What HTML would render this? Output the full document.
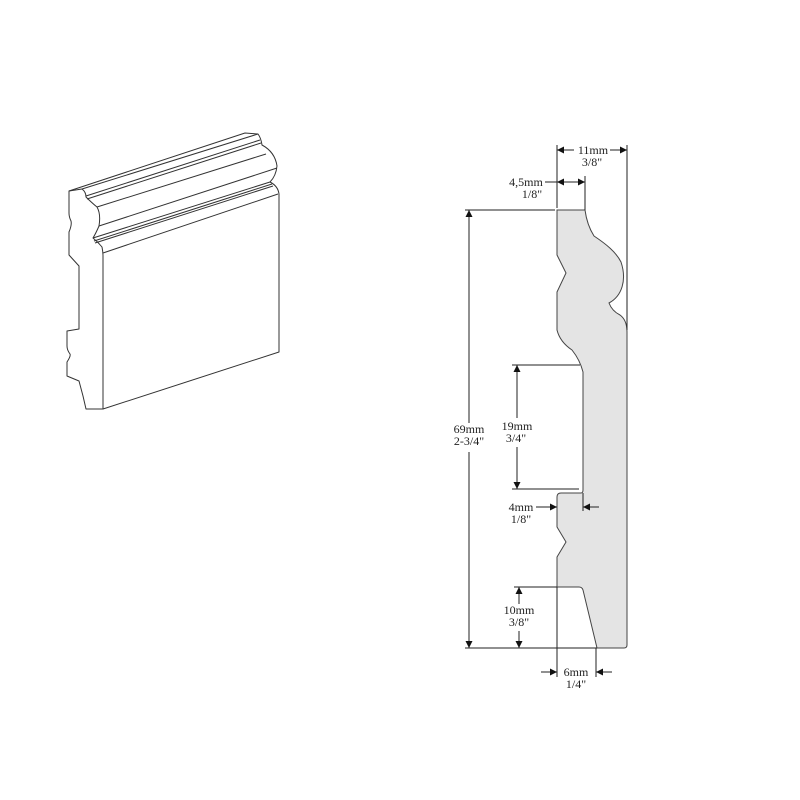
<!DOCTYPE html>
<html><head><meta charset="utf-8"><style>
html,body{margin:0;padding:0;background:#fff;}
svg{display:block}
text{font-family:"Liberation Serif",serif;font-size:12px;fill:#222}
</style></head><body>
<svg width="800" height="800" viewBox="0 0 800 800" xmlns="http://www.w3.org/2000/svg">
<defs>
<marker id="a" viewBox="0 0 10 10" refX="10" refY="5" markerWidth="12" markerHeight="7" orient="auto-start-reverse" markerUnits="userSpaceOnUse"><path d="M0,0 L10,5 L0,10 z" fill="#111"/></marker>
</defs>
<g fill="none" stroke="#333" stroke-width="1" stroke-linejoin="round">
<path d="M69,191 L82,189 Q86,192 86,197 Q92,203 97,207 Q101,214 99,226 Q96,233 93,238 Q98,242 102,247 Q103,252 103,256 L103,409 L86,409 L83,396 L79,381 L67,376 L67,362 Q71,356 70,354 Q67,350 67,346 L67,331 L79,329 L79,266 L69,255 L69,232 Q72,225 71,221 Q69,217 69,213 Z" fill="#fff"/>
<path d="M69,191 L245,133 L258,134"/>
<path d="M82,189 L258,134 Q261,138 262,145 Q275,152 277,166 Q276,176 270,182 Q278,186 279,194 L279,352 L103,409"/>
<path d="M86,196 L260,140"/>
<path d="M87,199 L261,143"/>
<path d="M97,207 L266,154"/>
<path d="M99,226 L277,168"/>
<path d="M93,238 L270,182"/>
<path d="M94,241 L272,184"/>
<path d="M95,243 L273,186"/>
<path d="M103,253 L278,194"/>
</g>
<path d="M557,210 L585,210 Q587,225 594,236 C606,244 616,252 621,262 C627,280 622,296 609,303 Q612,311 620,315 Q627,320 627,332 L627,645 Q627,648 624,648 L597,648 L583,590 Q582,587 579,587 L557,587 L557,557 L566,542 L557,527 L557,497 Q557,493 561,493 L581,493 Q583,493 583,490 L583,372 Q580,360 572,350 Q560,342 557,330 L557,292 L566,273 L557,255 Z" fill="#e4e4e4" stroke="#444" stroke-width="1"/>
<g stroke="#222" stroke-width="1" fill="none">
<line x1="557" y1="145" x2="557" y2="208"/>
<line x1="627" y1="145" x2="627" y2="330"/>
<line x1="574" y1="150" x2="557" y2="150" marker-end="url(#a)"/>
<line x1="610" y1="150" x2="627" y2="150" marker-end="url(#a)"/>
<line x1="585" y1="176" x2="585" y2="210"/>
<line x1="545" y1="182" x2="585" y2="182" marker-end="url(#a)"/>
<line x1="572" y1="182" x2="557" y2="182" marker-end="url(#a)"/>
<line x1="465" y1="210" x2="555" y2="210"/>
<line x1="465" y1="648" x2="597" y2="648"/>
<line x1="469" y1="423" x2="469" y2="210" marker-end="url(#a)"/>
<line x1="469" y1="452" x2="469" y2="648" marker-end="url(#a)"/>
<line x1="512" y1="365" x2="580" y2="365"/>
<line x1="512" y1="489" x2="579" y2="489"/>
<line x1="517" y1="418" x2="517" y2="365" marker-end="url(#a)"/>
<line x1="517" y1="447" x2="517" y2="489" marker-end="url(#a)"/>
<line x1="536" y1="507" x2="557" y2="507" marker-end="url(#a)"/>
<line x1="599" y1="507" x2="583" y2="507" marker-end="url(#a)"/>
<line x1="583" y1="493" x2="583" y2="511"/>
<line x1="514" y1="587" x2="557" y2="587"/>
<line x1="519" y1="604" x2="519" y2="587" marker-end="url(#a)"/>
<line x1="519" y1="631" x2="519" y2="648" marker-end="url(#a)"/>
<line x1="557" y1="587" x2="557" y2="677"/>
<line x1="596" y1="648" x2="596" y2="677"/>
<line x1="541" y1="672" x2="557" y2="672" marker-end="url(#a)"/>
<line x1="612" y1="672" x2="596" y2="672" marker-end="url(#a)"/>
</g>
<g text-anchor="middle">
<text x="593" y="154">11mm</text><text x="592" y="166">3/8"</text>
<text x="526" y="186">4,5mm</text><text x="532" y="198">1/8"</text>
<text x="469" y="433">69mm</text><text x="469" y="445">2-3/4"</text>
<text x="517" y="430">19mm</text><text x="516" y="442">3/4"</text>
<text x="521" y="511">4mm</text><text x="521" y="523">1/8"</text>
<text x="519" y="614">10mm</text><text x="519" y="626">3/8"</text>
<text x="576" y="676">6mm</text><text x="576" y="688">1/4"</text>
</g>
</svg>
</body></html>
